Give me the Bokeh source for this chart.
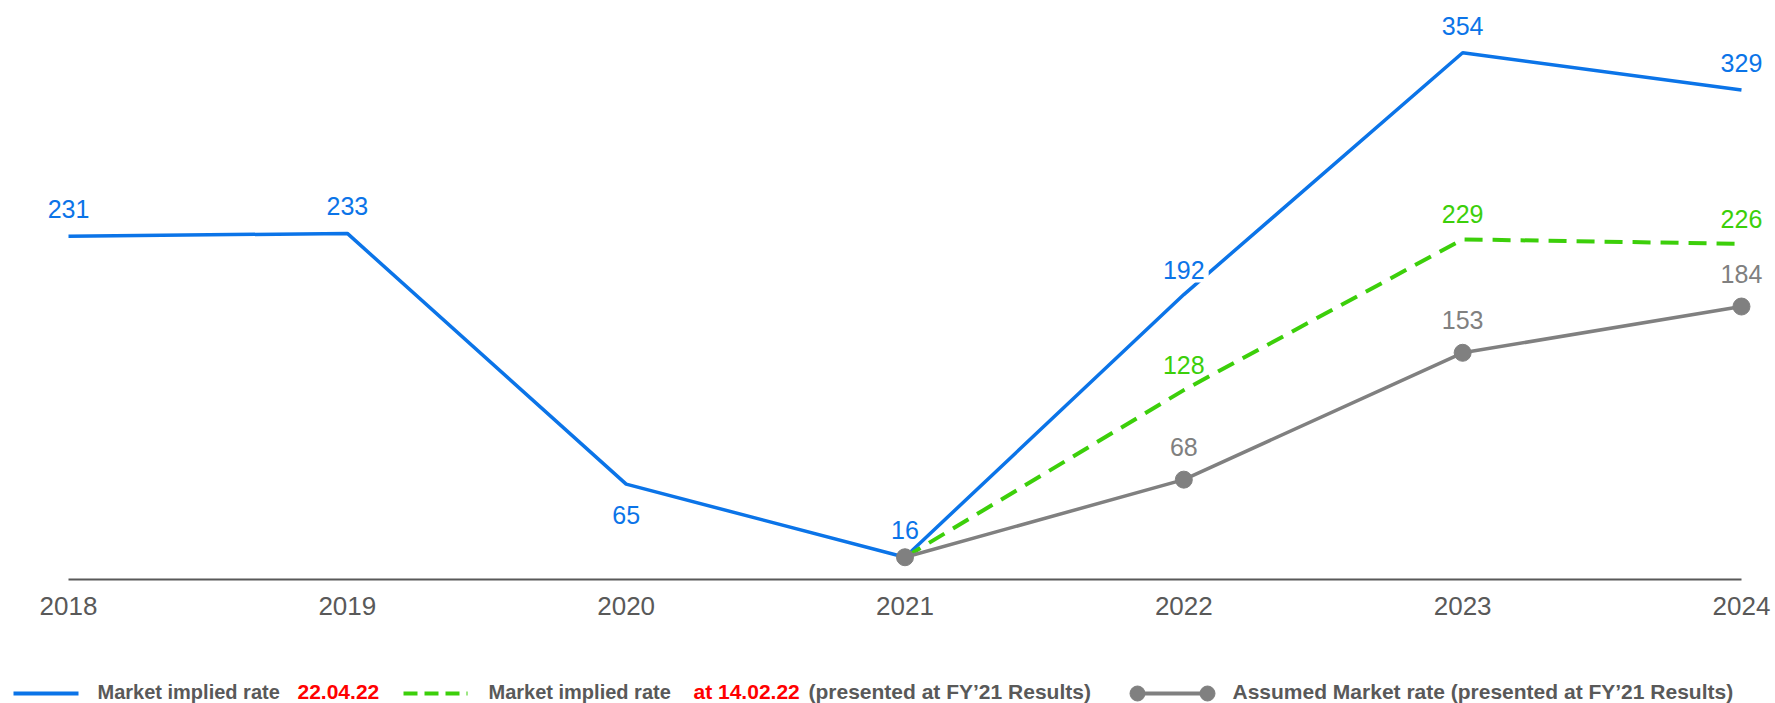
from bokeh.plotting import figure
from bokeh.layouts import column
from bokeh.models import ColumnDataSource, Range1d, FixedTicker, Label
from bokeh.core.properties import value
from bokeh.embed import file_html
from bokeh.resources import INLINE

# --- data -------------------------------------------------------------
years = [2018, 2019, 2020, 2021, 2022, 2023, 2024]
implied_2204 = [231, 233, 65, 16, 192, 354, 329]          # Market implied rate 22.04.22

fy21_years = [2021, 2022, 2023, 2024]
implied_1402 = [16, 128, 229, 226]                          # Market implied rate at 14.02.22
assumed = [16, 68, 153, 184]                                # Assumed Market rate

tick_years = [2018, 2019, 2020, 2021, 2022, 2023, 2024]

# --- style ------------------------------------------------------------
BLUE = "#0B74E8"
GREEN = "#3CCF0A"
GREY = "#808080"
DARK = "#595959"
RED = "#FF0000"
FONT = "Liberation Sans"

W = 1775
CH = 640      # chart height
LH = 63       # legend strip height

px_per_year = 278.83
x0_px = 68.0
px_per_unit = 1.4925
frame_h = 579

p = figure(width=W, height=CH, output_backend="svg", toolbar_location=None,
           x_range=Range1d(2018 - x0_px / px_per_year, 2018 + (W - x0_px) / px_per_year),
           y_range=Range1d(1.1, 1.1 + frame_h / px_per_unit),
           y_axis_location=None, min_border_left=0, min_border_right=0,
           min_border_top=0, min_border_bottom=CH - frame_h)
p.outline_line_color = None
p.grid.visible = False
p.background_fill_color = "white"
p.border_fill_color = "white"

ax = p.xaxis[0]
ax.ticker = FixedTicker(ticks=tick_years)
ax.bounds = (tick_years[0], tick_years[-1])
ax.axis_line_color = DARK
ax.axis_line_width = 2
ax.major_tick_line_color = None
ax.minor_tick_line_color = None
ax.major_tick_out = 0
ax.major_label_standoff = 17
ax.major_label_text_font = FONT
ax.major_label_text_font_size = "26px"
ax.major_label_text_color = DARK

# lines
p.line(years, implied_2204, line_color=BLUE, line_width=3.5)
p.line(fy21_years, implied_1402, line_color=GREEN, line_width=4, line_dash="18 10")
p.line(fy21_years, assumed, line_color=GREY, line_width=3.5)
p.scatter(fy21_years, assumed, size=17, fill_color=GREY, line_color=GREY)

# value labels
blue_keep = [i for i in range(len(years)) if years[i] != 2022]
blue_src = ColumnDataSource(dict(
    x=[years[i] for i in blue_keep],
    y=[implied_2204[i] for i in blue_keep],
    t=[str(implied_2204[i]) for i in blue_keep],
    dy=[31 if implied_2204[i] == 65 else -27 for i in blue_keep],
))
p.text("x", "y", text="t", y_offset="dy", source=blue_src, text_color=BLUE,
       text_font=value(FONT), text_font_size="25px", text_align="center",
       text_baseline="middle")

# the 2022 label sits on the rising line, boxed in white
i22 = years.index(2022)
p.add_layout(Label(x=years[i22], y=implied_2204[i22], text=str(implied_2204[i22]),
                   y_offset=25, text_color=BLUE, text_font=FONT, text_font_size="25px",
                   text_align="center", text_baseline="middle",
                   background_fill_color="white", padding=4))

green_src = ColumnDataSource(dict(x=fy21_years[1:], y=implied_1402[1:],
                                  t=[str(v) for v in implied_1402[1:]]))
p.text("x", "y", text="t", y_offset=-25, source=green_src, text_color=GREEN,
       text_font=value(FONT), text_font_size="25px", text_align="center",
       text_baseline="middle")

grey_src = ColumnDataSource(dict(x=fy21_years[1:], y=assumed[1:],
                                 t=[str(v) for v in assumed[1:]]))
p.text("x", "y", text="t", y_offset=-33, source=grey_src, text_color=GREY,
       text_font=value(FONT), text_font_size="25px", text_align="center",
       text_baseline="middle")

# --- legend strip -----------------------------------------------------
leg = figure(width=W, height=LH, output_backend="svg", toolbar_location=None,
             x_range=Range1d(0, W), y_range=Range1d(0, LH),
             x_axis_location=None, y_axis_location=None,
             min_border=0, min_border_left=0, min_border_right=0,
             min_border_top=0, min_border_bottom=0)
leg.outline_line_color = None
leg.grid.visible = False

key_y = 10
text_y = 12

leg.line([13, 78], [key_y, key_y], line_color=BLUE, line_width=4)
leg.line([403, 467], [key_y, key_y], line_color=GREEN, line_width=4, line_dash="14 7")
leg.line([1137, 1207], [key_y, key_y], line_color=GREY, line_width=4)
leg.scatter([1137, 1207], [key_y, key_y], size=15, fill_color=GREY, line_color=GREY)

legend_parts = [
    (97, "Market implied rate", DARK, "20px"),
    (297, "22.04.22", RED, "21px"),
    (488, "Market implied rate", DARK, "20px"),
    (693, "at 14.02.22", RED, "21px"),
    (808, "(presented at FY\u201921 Results)", DARK, "21px"),
    (1232, "Assumed Market rate (presented at FY\u201921 Results)", DARK, "21px"),
]
for x, t, c, fs in legend_parts:
    leg.text([x], [text_y], text=[t], text_color=c, text_font=value(FONT),
             text_font_size=fs, text_font_style="bold", text_align="left",
             text_baseline="middle")

layout = column(p, leg, spacing=0)
open("out.html", "w").write(file_html(layout, INLINE))
